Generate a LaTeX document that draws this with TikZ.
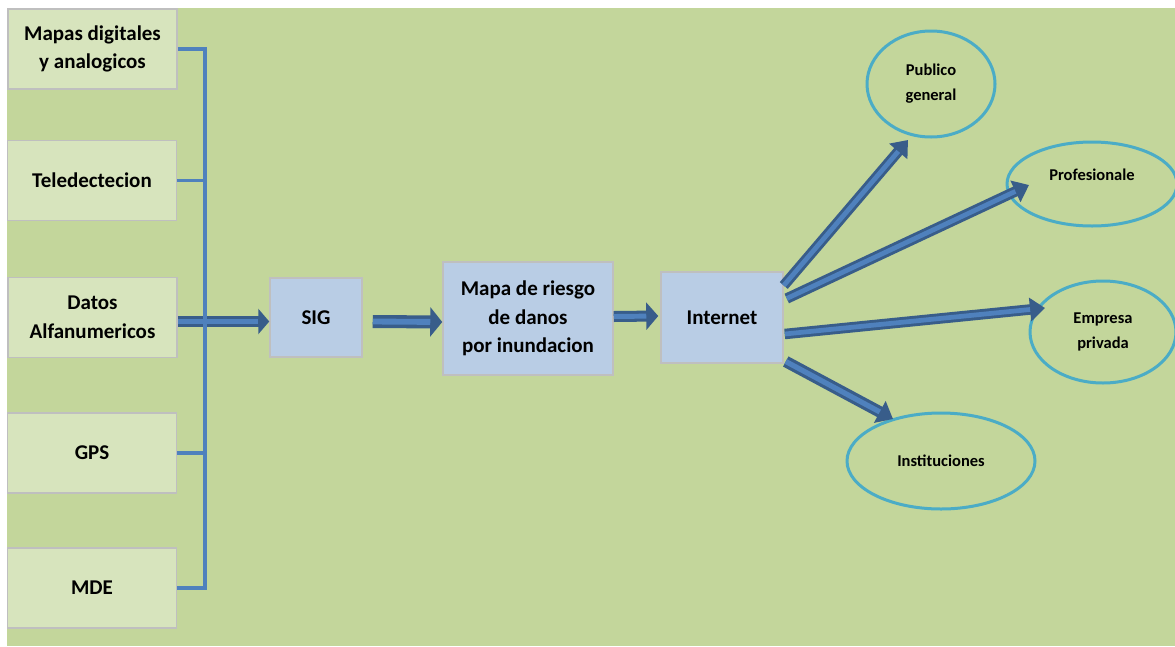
\documentclass[tikz,border=0pt]{standalone}
\usepackage{fontspec}
\setmainfont{Carlito}
\usetikzlibrary{arrows.meta,calc,shapes.geometric}

\definecolor{bggreen}{HTML}{C3D69B}
\definecolor{srcfill}{HTML}{D7E4BD}
\definecolor{procfill}{HTML}{B9CDE5}
\definecolor{boxline}{HTML}{BFBFBF}
\definecolor{busblue}{HTML}{4F81BD}
\definecolor{arrdark}{HTML}{385D8A}
\definecolor{arrlight}{HTML}{4F81BD}
\definecolor{ringblue}{HTML}{4BACC6}

\begin{document}
\begin{tikzpicture}[x=1pt,y=-1pt,
  boxfont/.style={font=\fontsize{21}{28.5}\selectfont\bfseries},
  srcbox/.style={draw=boxline, line width=1.5pt, fill=srcfill,
    minimum width=169pt, minimum height=80pt, inner sep=0pt,
    align=center, boxfont},
  procbox/.style={draw=boxline, line width=1.5pt, fill=procfill,
    inner sep=0pt, align=center, boxfont},
  target/.style={ellipse, draw=ringblue, line width=3pt, inner sep=0pt,
    align=center, font=\fontsize{16.5}{25}\selectfont\bfseries},
  bus/.style={draw=busblue, line width=3.5pt},
  blockarrow/.style n args={3}{draw=arrdark, line width=#1,
    -{Triangle[width=#2,length=#3]},
    postaction={draw=arrlight, line width=0.45*#1, -, shorten >=#3}}
]
% page and backdrop
\fill[white] (0,0) rectangle (1175,646);
\useasboundingbox (0,0) rectangle (1175,646);
\fill[bggreen] (7,8) rectangle (1175,646);

% data sources
\node[srcbox] (m1) at (92.5,49)    {Mapas digitales\\y analogicos};
\node[srcbox] (m2) at (92,180.5)   {Teledectecion};
\node[srcbox] (m3) at (92.5,317.5) {Datos\\Alfanumericos};
\node[srcbox] (m4) at (92,453)     {GPS};
\node[srcbox] (m5) at (92,588)     {MDE};

% processing chain
\node[procbox, minimum width=92pt,  minimum height=79pt]  (sig)  at (316,317.5) {SIG};
\node[procbox, minimum width=170pt, minimum height=113pt] (map)  at (528,318.5) {Mapa de riesgo\\de danos\\por inundacion};
\node[procbox, minimum width=122pt, minimum height=91pt]  (inet) at (722,317.5) {Internet};

% audiences
\node[target, minimum width=128pt, minimum height=106pt] (pub)  at (931,84)   {Publico\\general};
\node[target, minimum width=170pt, minimum height=84pt, text depth=18pt] (prof) at (1092,184) {Profesionale};
\node[target, minimum width=146pt, minimum height=102pt] (emp)  at (1103,332) {Empresa\\privada};
\node[target, minimum width=188pt, minimum height=96pt]  (inst) at (941,461)  {Instituciones};

% arrow tips at the audiences
\coordinate (tpub)  at ($(pub.center)+(-23,56)$);
\coordinate (tprof) at ($(prof.center)+(-63,1)$);
\coordinate (temp)  at ($(emp.center)+(-58,-24)$);
\coordinate (tinst) at ($(inst.center)+(-48,-42)$);

% main flow
\draw[blockarrow={11pt}{25pt}{11pt}] ($(m3.east)+(0,4)$) -- ($(sig.west)+(0,4)$);
\draw[blockarrow={13pt}{29pt}{12pt}] ($(sig.east)+(10,4)$) -- ($(map.west)+(0,3.5)$);
\draw[blockarrow={11pt}{27pt}{12pt}] ($(map.east)+(0,-2)$) -- ($(inet.west)+(-2,-1.5)$);

% distribution
\draw[blockarrow={10.5pt}{23pt}{15pt}] ($(inet.east)+(0,-32)$) -- (tpub);
\draw[blockarrow={10.5pt}{23pt}{15pt}] ($(inet.east)+(3,-19)$) -- (tprof);
\draw[blockarrow={10.5pt}{23pt}{15pt}] ($(inet.east)+(1,16.5)$) -- (temp);
\draw[blockarrow={11.5pt}{24pt}{15pt}] ($(inet.east)+(2,44)$) -- (tinst);

% collector bus
\draw[bus] (m1.east) -- ++(27,0) |- (m5.east);
\draw[bus] (m2.east) -- ++(27,0);
\draw[bus] (m4.east) -- ++(27,0);
\end{tikzpicture}
\end{document}
